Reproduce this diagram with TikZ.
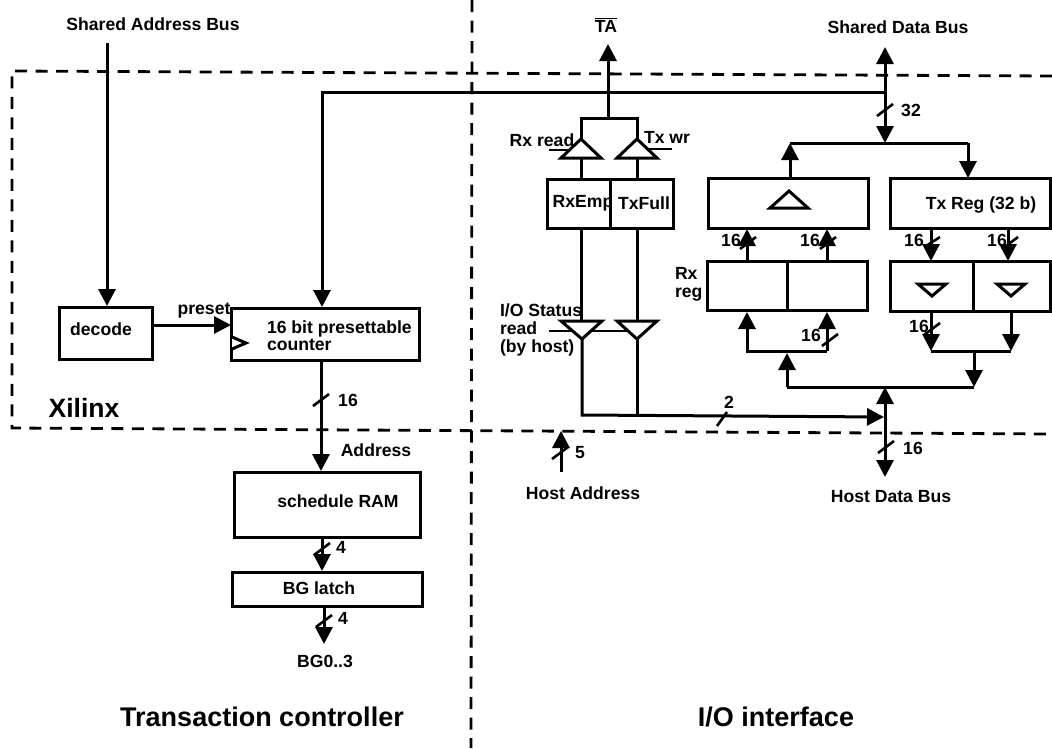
\documentclass[tikz,border=0pt]{standalone}
\usepackage{fontspec}
\setmainfont{Liberation Sans}
\usetikzlibrary{arrows.meta}
\tikzset{
  boxst/.style={draw=black,line width=3pt,fill=white,inner sep=0pt,outer sep=0pt,anchor=north west},
  wire/.style={draw=black,line width=3pt},
  arrowwire/.style={wire,-{Triangle[width=17pt,length=17pt]}},
  dblwire/.style={wire,{Triangle[width=17pt,length=17pt]}-{Triangle[width=17pt,length=17pt]}},
  thinwire/.style={draw=black,line width=2.4pt},
  tick/.style={draw=black,line width=2.6pt},
  region/.style={draw=black,line width=2.8pt,dash pattern=on 12pt off 8.5pt},
  buffer/.style={draw=black,line width=3pt,fill=white,line join=miter},
  lab/.style={font=\bfseries\fontsize{17.6}{18}\selectfont,inner sep=0pt,outer sep=0pt},
  big/.style={font=\bfseries\fontsize{27}{30}\selectfont,inner sep=0pt},
}
\newcommand{\bustick}[2]{\draw[tick] (#1-8,#2+6) -- (#1+8,#2-6);}
\begin{document}
\begin{tikzpicture}[x=1pt,y=-1pt]
\useasboundingbox (0,0) rectangle (1052,748);
% regions
\coordinate (divT) at (472,0); \coordinate (divB) at (471,748);
\coordinate (xTL) at (12,71); \coordinate (xTR) at (1052,76);
\coordinate (xBL) at (12,428); \coordinate (xBR) at (1052,434);
\draw[region] (divT) -- (divB);
\draw[region] (xTR) -- (xTL) -- (xBL) -- (xBR);

% boxes
\node[boxst,minimum width=93pt,minimum height=52pt] (decode) at (59,307) {};
\node[boxst,minimum width=188pt,minimum height=52pt] (counter) at (231,308) {};
\node[boxst,minimum width=186pt,minimum height=65pt] (ram) at (234,472) {};
\node[boxst,minimum width=190pt,minimum height=34pt] (latch) at (232,572) {};
\node[boxst,minimum width=63pt,minimum height=49pt] (rxemp) at (547,179) {};
\node[lab] (trxemp) at (583,203) {RxEmp};
\node[boxst,minimum width=63pt,minimum height=49pt] (txfull) at (610,179) {};
\node[boxst,minimum width=160pt,minimum height=50pt] (rxup) at (708,178) {};
\node[boxst,minimum width=160pt,minimum height=50pt] (txreg) at (890,178) {};
\node[boxst,minimum width=80pt,minimum height=49pt] (rxa) at (707,261) {};
\node[boxst,minimum width=80pt,minimum height=49pt] (rxb) at (787,261) {};
\node[boxst,minimum width=83pt,minimum height=50pt] (txa) at (890,261) {};
\node[boxst,minimum width=77pt,minimum height=50pt] (txb) at (973,261) {};

% box labels
\node[lab] (tdecode) at (101,329) {decode};
\node[lab,align=left,anchor=west,font=\bfseries\fontsize{17.6}{17}\selectfont] (tcounter) at (267,335.5) {16 bit presettable\\counter};
\node[lab] (tram) at (338,501) {schedule RAM};
\node[lab] (tlatch) at (319,588) {BG latch};
\node[lab] (ttxfull) at (644,203) {TxFull};
\node[lab] (ttxreg) at (981,205) {Tx Reg (32 b)};

% address side
\coordinate (sabTop) at (107,43);
\coordinate (sabEnd) at (107,306);
\draw[arrowwire] (sabTop) -- (sabEnd);
\coordinate (busR) at (885,92);
\coordinate (busL) at (322,92);
\coordinate (busD) at (322,307);
\draw[arrowwire] (busR) -- (busL) -- (busD);
\draw[arrowwire] (decode.east |- 0,325) -- (counter.west |- 0,325);
\draw[arrowwire] (321,360) -- (321,471);
\bustick{321}{400}
\draw[arrowwire] (322,537) -- (322,571);
\bustick{322}{549}
\coordinate (bgEnd) at (324,644);
\draw[arrowwire] (324,606) -- (bgEnd);
\bustick{324}{621}
\draw[buffer] (232,337) -- (246,343) -- (232,349);

\node[lab] (tsab) at (153,24) {Shared Address Bus};
\node[lab] (tpreset) at (204,311) {preset};
\node[lab] (t16a) at (348,400) {16};
\node[lab] (taddr) at (376,450) {Address};
\node[lab] (t4a) at (341,547) {4};
\node[lab] (t4b) at (343,618) {4};
\node[lab] (tbg) at (325,661) {BG0..3};
\node[font=\bfseries\fontsize{26.5}{28}\selectfont,inner sep=0pt] (txil) at (84,408) {Xilinx};
\node[big] (ttc) at (262,717) {Transaction controller};
\node[big] (tio) at (776,717) {I/O interface};

% status path
\coordinate (taTip) at (608,44);
\coordinate (taJ) at (608,118);
\coordinate (j1) at (581,118); \coordinate (j2) at (637,118);
\coordinate (b1a) at (581,139); \coordinate (b2a) at (637,139);
\coordinate (b1b) at (581,158); \coordinate (b2b) at (637,158);
\draw[arrowwire] (taJ) -- (taTip);
\draw[wire] (b1a) -- (j1) -- (j2) -- (b2a);
\draw[wire] (b1b) -- (581,179);
\draw[wire] (b2b) -- (637,179);
\draw[buffer] (561,158) -- (b1a) -- (601,158) -- cycle;
\draw[buffer] (617,158) -- (b2a) -- (657,158) -- cycle;
\draw[thinwire] (549,150) -- (570,150);
\draw[thinwire] (672,149) -- (648,149);

\coordinate (b3a) at (582,339); \coordinate (b4a) at (637,339);
\coordinate (botL) at (582,415); \coordinate (botM) at (637,415.5);
\coordinate (arrT) at (884,417);
\draw[wire] (581,228) -- (581,322);
\draw[wire] (637,228) -- (637,322);
\draw[wire] (b4a) -- (botM);
\draw[arrowwire] (b3a) -- (botL) -- (arrT);
\draw[buffer] (561,321) -- (b3a) -- (602,321) -- cycle;
\draw[buffer] (617,321) -- (b4a) -- (657,321) -- cycle;
\draw[thinwire] (549,331) -- (571,331);
\draw[thinwire] (592,331) -- (627,331);
\draw[tick] (717,426) -- (727,412);

\node[lab] (tta) at (606,25) {$\overline{\mbox{TA}}$};
\node[lab] (trxr) at (542,140) {Rx read};
\node[lab] (ttxw) at (667,137) {Tx wr};
\node[lab,align=left,anchor=west,font=\bfseries\fontsize{17.6}{18}\selectfont] (tstat) at (500,330) {I/O Status\\read\\(by host)};
\node[lab,align=left,anchor=west,font=\bfseries\fontsize{17.6}{18}\selectfont] (trx) at (675,284) {Rx\\reg};
\node[lab] (t2) at (729,402) {2};

\coordinate (hS) at (561,472); \coordinate (hT) at (561,431);
\draw[arrowwire] (hS) -- (hT);
\bustick{560}{453}
\node[lab] (t5) at (580,453) {5};
\node[lab] (thost) at (583,493) {Host Address};

% data path
\coordinate (sdT) at (885,47); \coordinate (sdB) at (885,143);
\draw[dblwire] (sdB) -- (sdT);
\bustick{885}{110}
\node[lab] (t32) at (911,110) {32};
\node[lab] (tsdb) at (898,27) {Shared Data Bus};
\coordinate (upL) at (790,143); \coordinate (upR) at (968,143);
\draw[wire] (upL) -- (upR);
\draw[arrowwire] (790,178) -- (upL);
\draw[arrowwire] (upR) -- (968,178);

\draw[buffer] (770,208) -- (789,191) -- (808,208) -- cycle;
\draw[buffer] (918,284) -- (932,296) -- (946,284) -- cycle;
\draw[buffer] (997,284) -- (1011,296) -- (1025,284) -- cycle;

\draw[arrowwire] (747,261) -- (747,229);
\draw[arrowwire] (827,261) -- (827,229);
\draw[arrowwire] (931,228) -- (931,261);
\draw[arrowwire] (1008,228) -- (1008,261);
\bustick{748}{243}
\bustick{828}{243}
\draw[tick] (926,246) -- (940,237);
\bustick{1010}{243}
\node[lab] (t16b) at (731,240) {16};
\node[lab] (t16c) at (810,240) {16};
\node[lab] (t16d) at (914,240) {16};
\node[lab] (t16e) at (997,240) {16};

\coordinate (m1) at (747,351); \coordinate (m2) at (827,351); \coordinate (m0) at (787,353);
\draw[arrowwire] (m2) -- (m1) -- (747,312);
\draw[arrowwire] (m2) -- (827,312);
\bustick{830}{340}
\node[lab] (t16f) at (811,335) {16};
\coordinate (n1) at (931,351); \coordinate (n2) at (1011,351); \coordinate (n0) at (974,351);
\draw[arrowwire] (931,311) -- (n1);
\draw[arrowwire] (1011,311) -- (n2);
\draw[wire] (n1) -- (n2);
\bustick{932}{329}
\node[lab] (t16g) at (919,326) {16};

\coordinate (o1) at (787,387); \coordinate (o2) at (974,387); \coordinate (o0) at (885,387);
\draw[wire] (o2) -- (o1);
\draw[arrowwire] (o1) -- (m0);
\draw[arrowwire] (n0) -- (o2);
\coordinate (hdB) at (885,477);
\draw[dblwire] (hdB) -- (o0);
\bustick{886}{447}
\node[lab] (t16h) at (913,448) {16};
\node[lab] (thdb) at (891,497) {Host Data Bus};
\end{tikzpicture}
\end{document}
